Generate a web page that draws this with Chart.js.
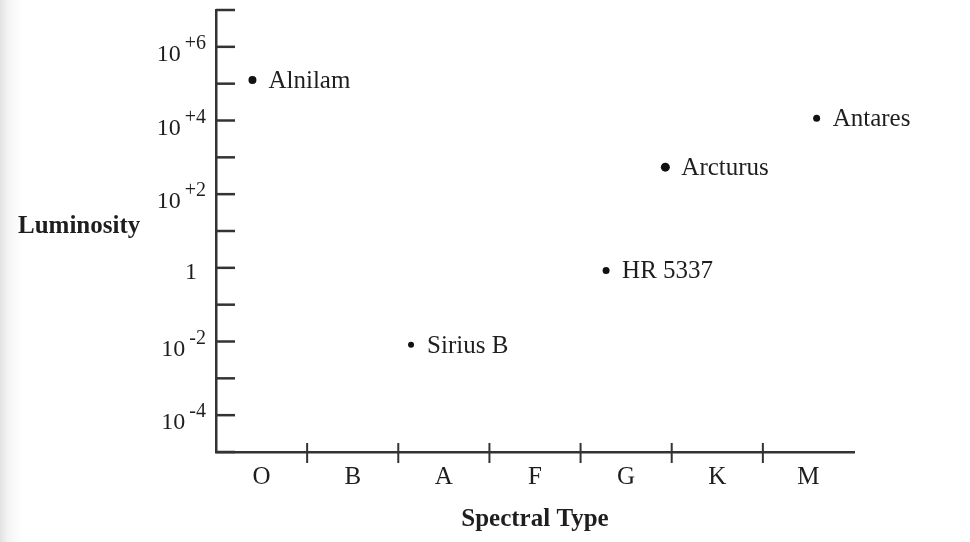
<!DOCTYPE html>
<html>
<head>
<meta charset="utf-8">
<script src="https://cdn.jsdelivr.net/npm/chart.js@4.4.1/dist/chart.umd.min.js"></script>
<style>
  html, body { margin: 0; padding: 0; }
  body {
    width: 970px; height: 542px; overflow: hidden;
    background: linear-gradient(to right, #e2e2e2 0px, #f4f4f4 8px, #ffffff 22px);
  }
  canvas { display: block; }
</style>
</head>
<body>
<canvas id="hrChart" width="970" height="542"></canvas>
<script>
// HR diagram: luminosity against spectral type

const spectralTypes = ["O", "B", "A", "F", "G", "K", "M"];

const starNames = ["Alnilam", "Sirius B", "HR 5337", "Arcturus", "Antares"];
const starTypePos = [-0.1, 1.64, 3.78, 4.43, 6.09];
const starLuminosity = [1.25e5, 0.0081, 0.85, 540, 1.15e4];

// every decade gets a tick, every other one a label
const lumTickValues = [1e-5, 1e-4, 1e-3, 1e-2, 1e-1, 1, 1e1, 1e2, 1e3, 1e4, 1e5, 1e6, 1e7];
const lumLabelValues = [1e-4, 1e-2, 1, 1e2, 1e4, 1e6];
const lumLabelText = ["10^-4", "10^-2", "1", "10^+2", "10^+4", "10^+6"];

const dotSizes = [4, 3, 3.5, 4.5, 3.5];
const axisColor = "#333333";
const textColor = "#1e1e1e";
const fontName = "'Liberation Serif', 'Times New Roman', serif";

Chart.defaults.font.family = fontName;
Chart.defaults.color = textColor;

// ticks, y labels with superscripts, star names, left title
const hrDecor = {
    id: "hrDecor",
    afterDraw(chart) {
        let ctx = chart.ctx;
        let x = chart.scales.x;
        let y = chart.scales.y;
        let area = chart.chartArea;

        ctx.save();
        ctx.strokeStyle = axisColor;

        // y ticks point into the plot
        ctx.lineWidth = 2.5;
        y.ticks.forEach(function(t){
            let py = y.getPixelForValue(t.value);
            ctx.beginPath();
            ctx.moveTo(area.left, py);
            ctx.lineTo(area.left + 19, py);
            ctx.stroke();
        });

        // separators between spectral types cross the axis
        ctx.lineWidth = 2;
        for(let i = 0; i < spectralTypes.length - 1; i++){
            let px = x.getPixelForValue(i + 0.5);
            ctx.beginPath();
            ctx.moveTo(px, area.bottom - 9);
            ctx.lineTo(px, area.bottom + 11);
            ctx.stroke();
        }

        // y labels
        ctx.fillStyle = textColor;
        ctx.textBaseline = "alphabetic";
        ctx.textAlign = "right";
        lumLabelValues.forEach(function(v, i){
            let py = y.getPixelForValue(v);
            let parts = lumLabelText[i].split("^");
            if(parts.length === 1){
                ctx.font = "24px " + fontName;
                ctx.fillText(parts[0], area.left - 19, py + 11);
            } else {
                ctx.font = "20px " + fontName;
                ctx.fillText(parts[1], area.left - 10, py + 2);
                let w = ctx.measureText(parts[1]).width;
                ctx.font = "24px " + fontName;
                ctx.fillText(parts[0], area.left - 10 - w - 4, py + 14);
            }
        });

        // star names next to the dots
        ctx.textAlign = "left";
        ctx.font = "25px " + fontName;
        let meta = chart.getDatasetMeta(0);
        meta.data.forEach(function(pt, i){
            ctx.fillText(starNames[i], pt.x + 16, pt.y + 8);
        });

        ctx.font = "bold 25px " + fontName;
        ctx.fillText("Luminosity", 18, 233);

        ctx.restore();
    }
};

let starPoints = starTypePos.map(function(v, i){
    return { x: v, y: starLuminosity[i] };
});

let ctx = document.getElementById("hrChart").getContext("2d");

let hrChart = new Chart(ctx, {

    type: "scatter",

    data: {
        datasets: [{
            label: "Stars",
            data: starPoints,
            pointRadius: dotSizes,
            pointBackgroundColor: "#111111",
            pointBorderWidth: 0
        }]
    },

    options: {
        responsive: false,
        animation: false,
        devicePixelRatio: 1,
        layout: {
            padding: { left: 216, right: 116, top: 10, bottom: 7 }
        },
        plugins: {
            legend: { display: false },
            tooltip: { enabled: false }
        },
        scales: {
            x: {
                type: "linear",
                min: -0.5,
                max: 6.5,
                afterBuildTicks: function(scale){
                    scale.ticks = spectralTypes.map(function(s, i){ return { value: i }; });
                },
                ticks: {
                    callback: function(value){ return spectralTypes[value]; },
                    font: { size: 25 },
                    color: textColor,
                    padding: 10,
                    maxRotation: 0,
                    autoSkip: false
                },
                grid: { display: false, drawTicks: false },
                border: { display: true, color: axisColor, width: 2.5 },
                title: {
                    display: true,
                    text: "Spectral Type",
                    font: { size: 25, weight: "bold" },
                    color: textColor,
                    padding: { top: 3, bottom: 0 }
                }
            },
            y: {
                type: "logarithmic",
                min: 1e-5,
                max: 1e7,
                afterBuildTicks: function(scale){
                    scale.ticks = lumTickValues.map(function(v){ return { value: v }; });
                },
                ticks: { display: false },
                grid: { display: false, drawTicks: false },
                border: { display: true, color: axisColor, width: 2.5 }
            }
        }
    },

    plugins: [hrDecor]

});
</script>
</body>
</html>
